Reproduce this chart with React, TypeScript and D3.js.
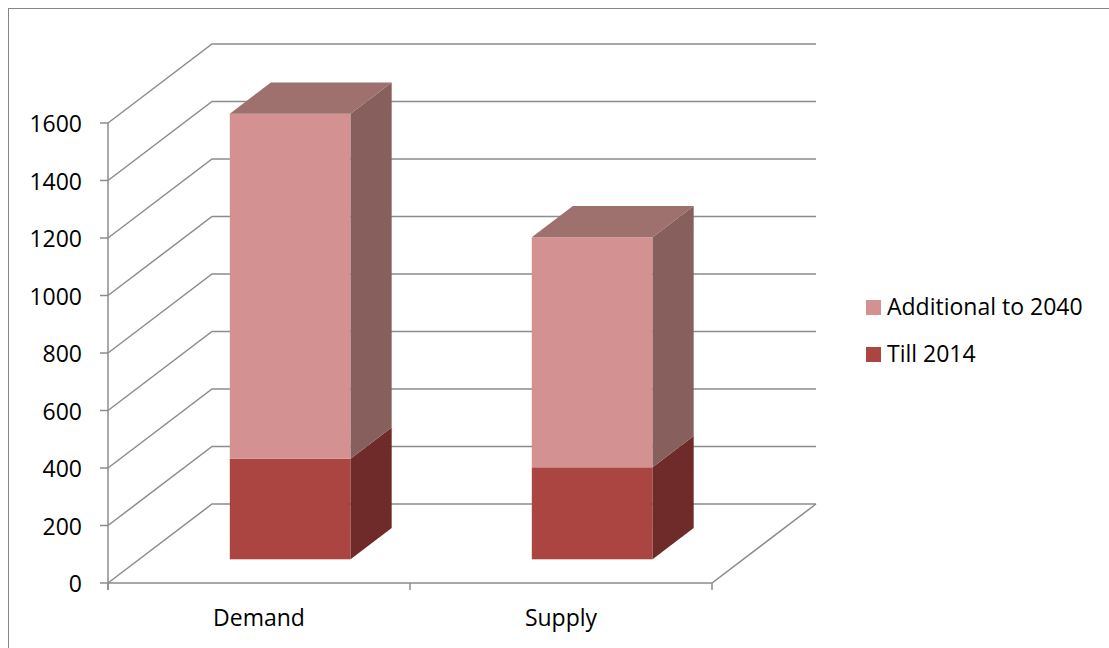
import React from "react";
import * as d3 from "d3";

const categories = ["Demand", "Supply"];
const till2014 = [350, 320];
const additional2040 = [1200, 800];
const yTicks = [0, 200, 400, 600, 800, 1000, 1200, 1400, 1600];
const legendItems = ["Additional to 2040", "Till 2014"];

const W = 1109;
const H = 648;
const FONT = "'Open Sans', sans-serif";
const GRID = "#8c8c8c";

const colors = {
  till: { front: "#ab4542", side: "#6e2b29", top: "#8a3835" },
  add: { front: "#d39291", side: "#87605e", top: "#9e716f" },
};

export default function App() {
  const x = d3
    .scaleBand<string>()
    .domain(categories)
    .range([108, 712])
    .paddingInner(0.6)
    .paddingOuter(0.3);
  const y = d3.scaleLinear().domain([0, 1600]).range([583, 123]);

  const DX = 104;
  const DY = 79;
  const d0 = 0.3;
  const d1 = 0.695;
  const P = (xf: number, v: number, d: number): [number, number] => [
    xf + d * DX,
    y(v) - d * DY,
  ];
  const pts = (arr: [number, number][]) => arr.map((p) => p.join(",")).join(" ");

  const x0Floor = x.range()[0];
  const x1Floor = x.range()[1];

  const bars: JSX.Element[] = [];
  categories.forEach((c, i) => {
    const xa = x(c)!;
    const xb = xa + x.bandwidth();
    const segs = [
      { lo: 0, hi: till2014[i], col: colors.till, top: false },
      { lo: till2014[i], hi: till2014[i] + additional2040[i], col: colors.add, top: true },
    ];
    segs.forEach((s, j) => {
      const fTL = P(xa, s.hi, d0);
      const fBR = P(xb, s.lo, d0);
      bars.push(
        <g key={`${c}-${j}`}>
          <rect
            x={fTL[0]}
            y={fTL[1]}
            width={fBR[0] - fTL[0]}
            height={fBR[1] - fTL[1]}
            fill={s.col.front}
          />
          <polygon
            points={pts([P(xb, s.lo, d0), P(xb, s.hi, d0), P(xb, s.hi, d1), P(xb, s.lo, d1)])}
            fill={s.col.side}
          />
          {s.top && (
            <polygon
              points={pts([P(xa, s.hi, d0), P(xb, s.hi, d0), P(xb, s.hi, d1), P(xa, s.hi, d1)])}
              fill={s.col.top}
            />
          )}
        </g>
      );
    });
  });

  return (
    <svg
      width={W}
      height={H}
      style={{ position: "absolute", left: 0, top: 0, background: "#fff" }}
    >
      <rect x={8.5} y={8.5} width={1200} height={800} fill="#fff" stroke="#868686" strokeWidth={1} />

      {/* gridlines (walls) */}
      {yTicks.map((t) => (
        <polyline
          key={`g${t}`}
          points={pts([P(x0Floor, t, 0), P(x0Floor, t, 1), P(x1Floor, t, 1)])}
          fill="none"
          stroke={GRID}
          strokeWidth={1.5}
        />
      ))}
      {/* floor */}
      <polyline
        points={pts([P(x0Floor, 0, 0), P(x1Floor, 0, 0), P(x1Floor, 0, 1)])}
        fill="none"
        stroke={GRID}
        strokeWidth={1.5}
      />
      {/* y axis */}
      <line x1={x0Floor} x2={x0Floor} y1={y(1600)} y2={y(0) + 7} stroke={GRID} strokeWidth={1.5} />
      {yTicks.map((t) => (
        <g key={`t${t}`}>
          <line x1={x0Floor - 8} x2={x0Floor} y1={y(t)} y2={y(t)} stroke={GRID} strokeWidth={1.5} />
          <text x={82} y={y(t) + 9} textAnchor="end" fontFamily={FONT} fontSize={23} fill="#000">
            {t}
          </text>
        </g>
      ))}
      {/* category ticks */}
      {[x0Floor, (x0Floor + x1Floor) / 2, x1Floor].map((xx, i) => (
        <line key={`ct${i}`} x1={xx} x2={xx} y1={y(0)} y2={y(0) + 7} stroke={GRID} strokeWidth={1.5} />
      ))}

      {bars}

      {categories.map((c) => (
        <text
          key={`cl${c}`}
          x={x(c)! + x.bandwidth() / 2}
          y={626}
          textAnchor="middle"
          fontFamily={FONT}
          fontSize={23}
          fill="#000"
        >
          {c}
        </text>
      ))}

      {legendItems.map((name, i) => (
        <g key={`lg${name}`} transform={`translate(866, ${300 + i * 47})`}>
          <rect x={0} y={0} width={15} height={15} fill={i === 0 ? colors.add.front : colors.till.front} />
          <text x={21} y={15} fontFamily={FONT} fontSize={23} fill="#000">
            {name}
          </text>
        </g>
      ))}
    </svg>
  );
}
